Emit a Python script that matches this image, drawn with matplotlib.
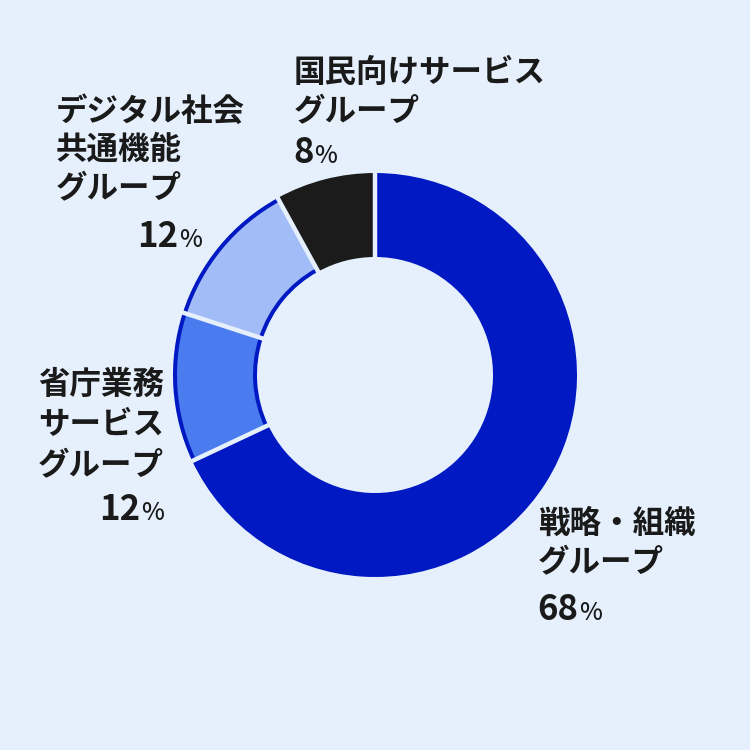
import matplotlib

matplotlib.use("Agg")

import matplotlib.pyplot as plt
import numpy as np

# data
groups = ["戦略・組織\nグループ", "省庁業務\nサービス\nグループ",
          "デジタル社会\n共通機能\nグループ", "国民向けサービス\nグループ"]
shares = [68, 12, 12, 8]

BG = "#e6f0fd"
DARK = "#0019c2"
ring_colours = [DARK, DARK, DARK, "#1b1b1b"]
fill_colours = ["none", "#4a7cf0", "#a2bcf8", "none"]

# label layout in pixel coords (x left, y of each line centre, pct baseline, pct x)
layout = [
    (538, [524, 563], 620, 537),
    (38, [385, 425, 466], 520, 99),
    (56, [112, 150, 189], 247, 137),
    (294, [73, 112], 163, 293),
]

plt.rcParams["font.family"] = ["Noto Sans CJK JP", "DejaVu Sans"]
FS = 22.7
NUM_FS = 25

fig = plt.figure(figsize=(7.5, 7.5), dpi=100, facecolor=BG)
ax = fig.add_axes([0, 0, 1, 1])
ax.set_facecolor(BG)

C = (375, 375)
R, W = 202, 84
ax.pie(shares, colors=ring_colours, startangle=90, counterclock=False,
       center=C, radius=R, wedgeprops=dict(width=W, linewidth=0))
ax.pie(shares, colors=fill_colours, startangle=90, counterclock=False,
       center=C, radius=R - 4, wedgeprops=dict(width=W - 8, linewidth=0))

# gaps between slices
bounds = 90 - 360 * np.cumsum([0] + shares[:-1]) / sum(shares)
for a in np.deg2rad(bounds):
    ax.plot([C[0] + (R - W - 5) * np.cos(a), C[0] + (R + 5) * np.cos(a)],
            [C[1] + (R - W - 5) * np.sin(a), C[1] + (R + 5) * np.sin(a)],
            color=BG, lw=3.2, solid_capstyle="butt")

ax.set_xlim(0, 750)
ax.set_ylim(0, 750)
ax.set_aspect("equal")
ax.axis("off")

nums = []
for text, share, (x, ys, base, px) in zip(groups, shares, layout):
    for line, y in zip(text.split("\n"), ys):
        ax.text(x, 750 - y, line, fontsize=FS, fontweight="bold", color="#1a1a1a",
                ha="left", va="center")
    t = ax.text(px, 750 - base, str(share), fontsize=NUM_FS, fontweight="bold",
                color="#1a1a1a", ha="left", va="baseline")
    nums.append(t)

fig.canvas.draw()
r = fig.canvas.get_renderer()
for t in nums:
    bb = t.get_window_extent(r)
    x_end = ax.transData.inverted().transform((bb.x1, bb.y0))[0]
    ax.text(x_end + 1, t.get_position()[1], "%", fontsize=NUM_FS * 0.7,
            fontweight="medium", color="#1a1a1a", ha="left", va="baseline")

fig.savefig("out.png", dpi=100, facecolor=BG)
